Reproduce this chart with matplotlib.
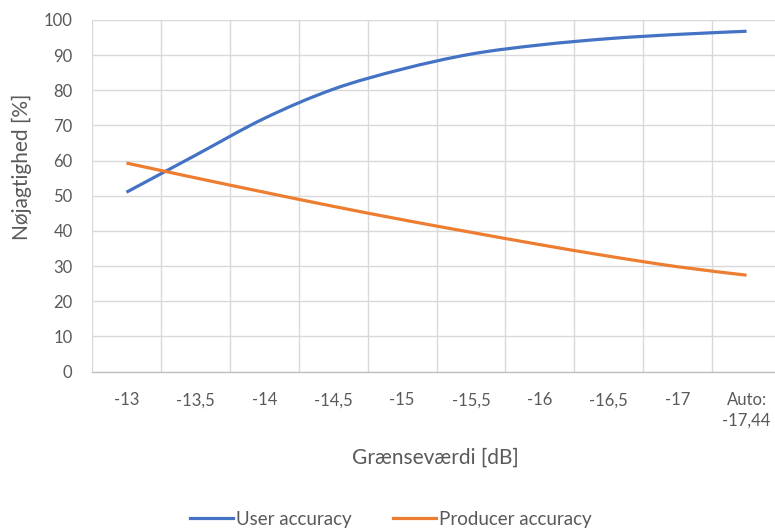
import matplotlib
matplotlib.use("Agg")
import matplotlib.pyplot as plt
from matplotlib.path import Path
from matplotlib.patches import PathPatch
from matplotlib.lines import Line2D
import numpy as np

# Threshold categories (dB) and accuracies (%)
categories = ["-13", "-13,5", "-14", "-14,5", "-15", "-15,5", "-16", "-16,5", "-17", "Auto:\n-17,44"]
user_accuracy = [51.0, 61.5, 72.0, 80.3, 86.0, 90.3, 92.9, 94.7, 95.9, 96.8]
producer_accuracy = [59.3, 55.1, 51.0, 47.0, 43.2, 39.6, 36.1, 32.8, 29.8, 27.4]
y_ticks = [0, 10, 20, 30, 40, 50, 60, 70, 80, 90, 100]

BLUE = "#4472C4"
ORANGE = "#ED7D31"
TEXT = "#595959"
GRID = "#d9d9d9"

plt.rcParams["font.family"] = ["Lato", "DejaVu Sans"]


def smooth_path(xs, ys):
    """Smoothed line through the points using Catmull-Rom style Bezier segments."""
    pts = np.column_stack([xs, ys]).astype(float)
    n = len(pts)
    verts = [pts[0]]
    codes = [Path.MOVETO]
    for i in range(n - 1):
        p0 = pts[i - 1] if i > 0 else pts[i]
        p1 = pts[i]
        p2 = pts[i + 1]
        p3 = pts[i + 2] if i + 2 < n else pts[i + 1]
        c1 = p1 + (p2 - p0) / 6.0
        c2 = p2 - (p3 - p1) / 6.0
        verts += [c1, c2, p2]
        codes += [Path.CURVE4] * 3
    return Path(verts, codes)


W, H = 775, 528
fig = plt.figure(figsize=(W / 100, H / 100), dpi=100)
left, right, top, bottom = 92, 781, 20, 371.5
ax = fig.add_axes([left / W, 1 - bottom / H, (right - left) / W, (bottom - top) / H])

x = np.arange(len(categories))
series = [(user_accuracy, BLUE, "User accuracy"), (producer_accuracy, ORANGE, "Producer accuracy")]
handles = []
for values, color, label in series:
    ax.add_patch(PathPatch(smooth_path(x, values), facecolor="none", edgecolor=color,
                           lw=2.3, capstyle="butt", zorder=3))
    handles.append(Line2D([], [], color=color, lw=2.3, label=label))

ax.set_xlim(-0.5, len(categories) - 0.5)
ax.set_ylim(0, 100)
ax.set_yticks(y_ticks)
ax.set_yticklabels([str(v) for v in y_ticks])
ax.set_xticks(x)
ax.set_xticklabels(categories, va="top", linespacing=1.35)
ax.set_xticks(np.arange(-0.5, len(categories) + 0.5, 1), minor=True)

ax.grid(axis="y", which="major", color=GRID, lw=1)
ax.grid(axis="x", which="minor", color=GRID, lw=1)
ax.set_axisbelow(True)

for s in ["top", "right", "left"]:
    ax.spines[s].set_visible(False)
ax.spines["bottom"].set_color("#bfbfbf")
ax.spines["bottom"].set_linewidth(1)

ax.tick_params(axis="both", which="both", length=0, colors=TEXT, labelsize=12)
ax.tick_params(axis="y", pad=14)
ax.tick_params(axis="x", pad=15)

fig.text(435 / W, 1 - 458 / H, "Grænseværdi [dB]", ha="center", va="center", color=TEXT, fontsize=15)
fig.text(22 / W, 1 - 167 / H, "Nøjagtighed [%]", ha="center", va="center", rotation=90, color=TEXT, fontsize=15)

fig.legend(handles=handles, loc="center", bbox_to_anchor=(391 / W, 1 - 519 / H), ncol=2, frameon=False,
           handlelength=2.3, handletextpad=0.15, columnspacing=2.2, fontsize=13.5,
           labelcolor=TEXT)

fig.savefig("out.png", dpi=100, facecolor="white")
